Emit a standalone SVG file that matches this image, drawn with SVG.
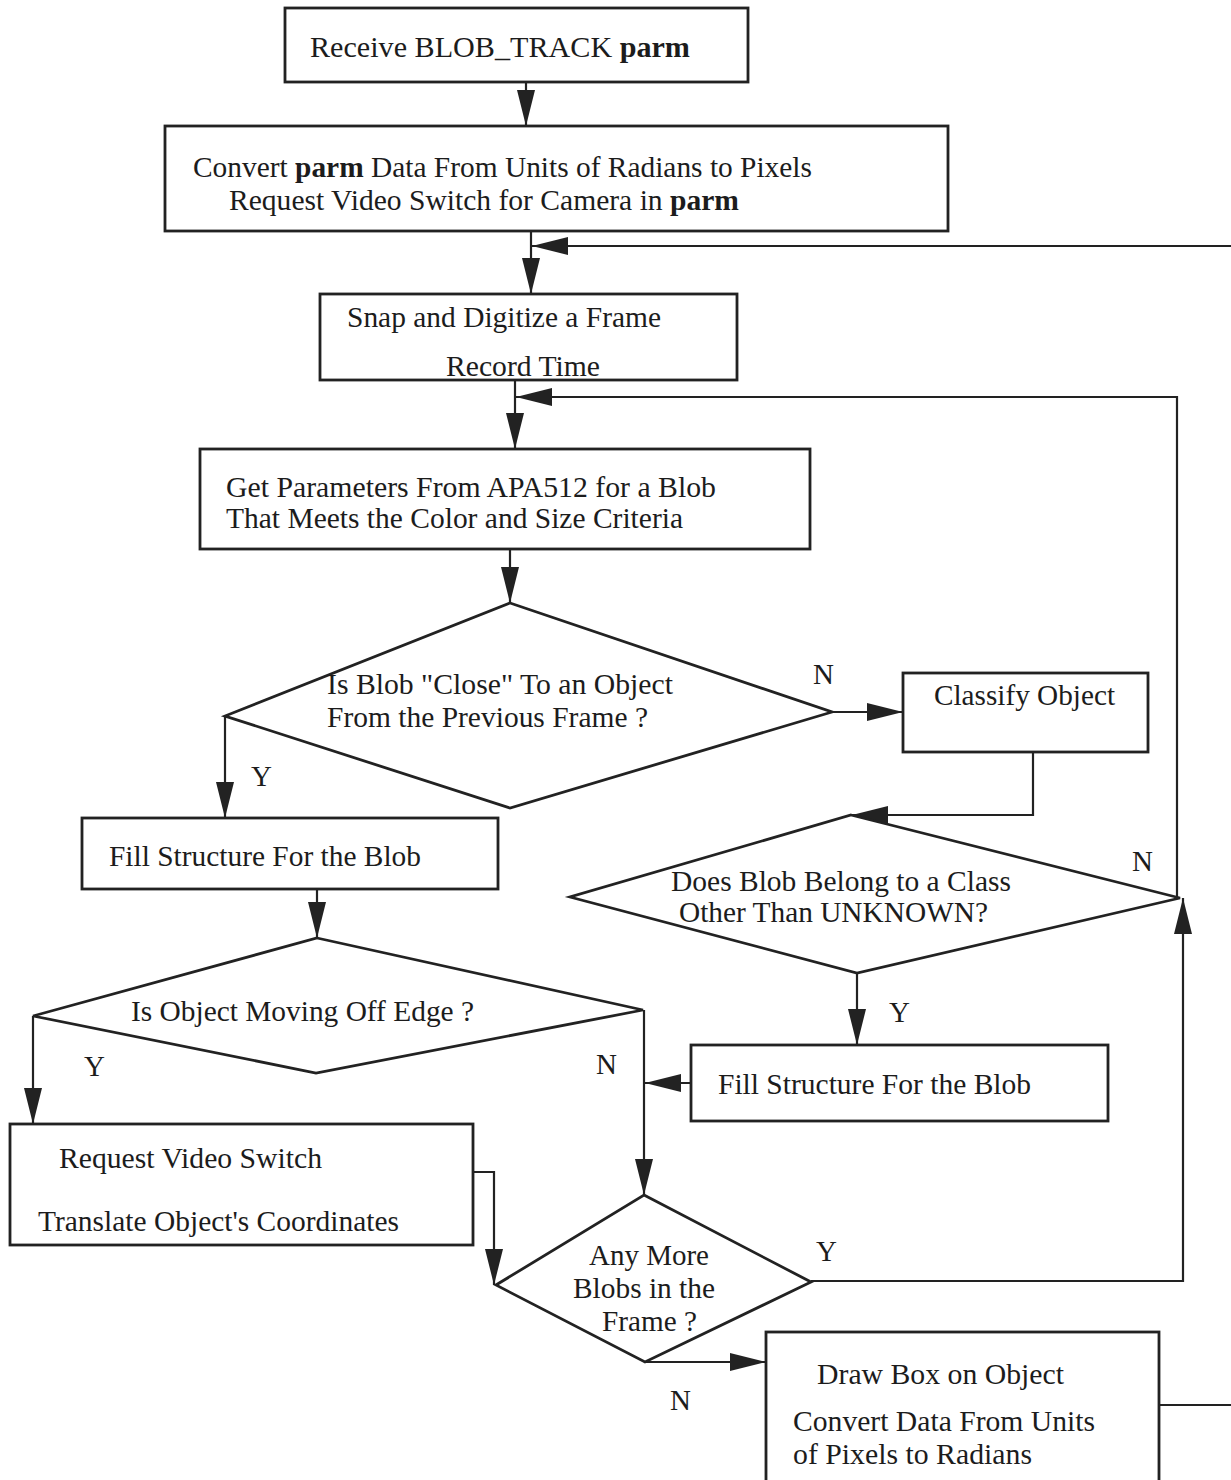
<svg xmlns="http://www.w3.org/2000/svg" width="1231" height="1480" viewBox="0 0 1231 1480">
  <style>
    .box { fill: #fff; stroke: #222; stroke-width: 2.8; }
    .dia { fill: none; stroke: #222; stroke-width: 2.8; stroke-linejoin: miter; }
    .wire { fill: none; stroke: #222; stroke-width: 2.2; }
    text { font-family: "Liberation Serif", "Times New Roman", serif; font-size: 29px; fill: #1c1c1c; }
    .b { font-weight: bold; }
  </style>
  <defs>
    <marker id="arrow" markerUnits="userSpaceOnUse" markerWidth="38" markerHeight="20" refX="36" refY="9" orient="auto">
      <path d="M0,0 L36,9 L0,18 z" fill="#222"/>
    </marker>
  </defs>
  <rect width="1231" height="1480" fill="#fff"/>

  <!-- connectors and their Y / N labels -->
  <g id="connectors">
    <path class="wire" d="M526,82 V126" marker-end="url(#arrow)"/>
    <path class="wire" d="M531,231 V294" marker-end="url(#arrow)"/>
    <path class="wire" d="M1231,246 H532" marker-end="url(#arrow)"/>
    <path class="wire" d="M515,380 V449" marker-end="url(#arrow)"/>
    <path class="wire" d="M1177,898 V397 H516" marker-end="url(#arrow)"/>
    <path class="wire" d="M510,549 V603" marker-end="url(#arrow)"/>
    <path class="wire" d="M832,712 H903" marker-end="url(#arrow)"/>
    <path class="wire" d="M1033,752 V815 H852" marker-end="url(#arrow)"/>
    <path class="wire" d="M225,716 V818" marker-end="url(#arrow)"/>
    <path class="wire" d="M857,973 V1045" marker-end="url(#arrow)"/>
    <path class="wire" d="M691,1083 H645" marker-end="url(#arrow)"/>
    <path class="wire" d="M317,889 V938" marker-end="url(#arrow)"/>
    <path class="wire" d="M33,1016 V1124" marker-end="url(#arrow)"/>
    <path class="wire" d="M644,1010 V1195" marker-end="url(#arrow)"/>
    <path class="wire" d="M473,1172 H494 V1285" marker-end="url(#arrow)"/>
    <path class="wire" d="M811,1281 H1183 V898" marker-end="url(#arrow)"/>
    <path class="wire" d="M645,1362 H766" marker-end="url(#arrow)"/>
    <path class="wire" d="M1159,1405 H1231"/>
    <text x="813" y="684">N</text>
    <text x="251" y="786">Y</text>
    <text x="1132" y="871">N</text>
    <text x="84" y="1076">Y</text>
    <text x="596" y="1074">N</text>
    <text x="889" y="1022">Y</text>
    <text x="816" y="1261">Y</text>
    <text x="670" y="1410">N</text>
  </g>

  <g id="receive">
    <rect class="box" x="285" y="8" width="463" height="74"/>
    <text x="310" y="57" textLength="380" lengthAdjust="spacingAndGlyphs">Receive BLOB_TRACK <tspan class="b">parm</tspan></text>
  </g>

  <g id="convert-parm">
    <rect class="box" x="165" y="126" width="783" height="105"/>
    <text x="193" y="177" textLength="619" lengthAdjust="spacingAndGlyphs">Convert <tspan class="b">parm</tspan> Data From Units of Radians to Pixels</text>
    <text x="229" y="210" textLength="510" lengthAdjust="spacingAndGlyphs">Request Video Switch for Camera in <tspan class="b">parm</tspan></text>
  </g>

  <g id="snap">
    <rect class="box" x="320" y="294" width="417" height="86"/>
    <text x="347" y="327" textLength="314" lengthAdjust="spacingAndGlyphs">Snap and Digitize a Frame</text>
    <text x="446" y="376" textLength="154" lengthAdjust="spacingAndGlyphs">Record Time</text>
  </g>

  <g id="get-params">
    <rect class="box" x="200" y="449" width="610" height="100"/>
    <text x="226" y="497" textLength="490" lengthAdjust="spacingAndGlyphs">Get Parameters From APA512 for a Blob</text>
    <text x="226" y="528" textLength="457" lengthAdjust="spacingAndGlyphs">That Meets the Color and Size Criteria</text>
  </g>

  <g id="is-close">
    <polygon class="dia" points="510,603 832,712 510,808 225,716"/>
    <text x="327" y="694" textLength="346" lengthAdjust="spacingAndGlyphs">Is Blob "Close" To an Object</text>
    <text x="327" y="727" textLength="321" lengthAdjust="spacingAndGlyphs">From the Previous Frame ?</text>
  </g>

  <g id="classify">
    <rect class="box" x="903" y="673" width="245" height="79"/>
    <text x="934" y="705" textLength="181" lengthAdjust="spacingAndGlyphs">Classify Object</text>
  </g>

  <g id="has-class">
    <polygon class="dia" points="851,815 1180,898 857,973 570,897"/>
    <text x="671" y="891" textLength="340" lengthAdjust="spacingAndGlyphs">Does Blob Belong to a Class</text>
    <text x="679" y="922" textLength="309" lengthAdjust="spacingAndGlyphs">Other Than UNKNOWN?</text>
  </g>

  <g id="fill-known">
    <rect class="box" x="82" y="818" width="416" height="71"/>
    <text x="109" y="866" textLength="312" lengthAdjust="spacingAndGlyphs">Fill Structure For the Blob</text>
  </g>

  <g id="fill-classified">
    <rect class="box" x="691" y="1045" width="417" height="76"/>
    <text x="718" y="1094" textLength="313" lengthAdjust="spacingAndGlyphs">Fill Structure For the Blob</text>
  </g>

  <g id="off-edge">
    <polygon class="dia" points="317,938 643,1010 316,1073 33,1016"/>
    <text x="131" y="1021" textLength="343" lengthAdjust="spacingAndGlyphs">Is Object Moving Off Edge ?</text>
  </g>

  <g id="switch-translate">
    <rect class="box" x="10" y="1124" width="463" height="121"/>
    <text x="59" y="1168" textLength="263" lengthAdjust="spacingAndGlyphs">Request Video Switch</text>
    <text x="38" y="1231" textLength="361" lengthAdjust="spacingAndGlyphs">Translate Object's Coordinates</text>
  </g>

  <g id="more-blobs">
    <polygon class="dia" points="644,1195 811,1282 645,1362 496,1285"/>
    <text x="589" y="1265" textLength="120" lengthAdjust="spacingAndGlyphs">Any More</text>
    <text x="573" y="1298" textLength="142" lengthAdjust="spacingAndGlyphs">Blobs in the</text>
    <text x="602" y="1331" textLength="95" lengthAdjust="spacingAndGlyphs">Frame ?</text>
  </g>

  <g id="draw-box">
    <rect class="box" x="766" y="1332" width="393" height="160"/>
    <text x="817" y="1384" textLength="247" lengthAdjust="spacingAndGlyphs">Draw Box on Object</text>
    <text x="793" y="1431" textLength="302" lengthAdjust="spacingAndGlyphs">Convert Data From Units</text>
    <text x="793" y="1464" textLength="239" lengthAdjust="spacingAndGlyphs">of Pixels to Radians</text>
  </g>
</svg>
